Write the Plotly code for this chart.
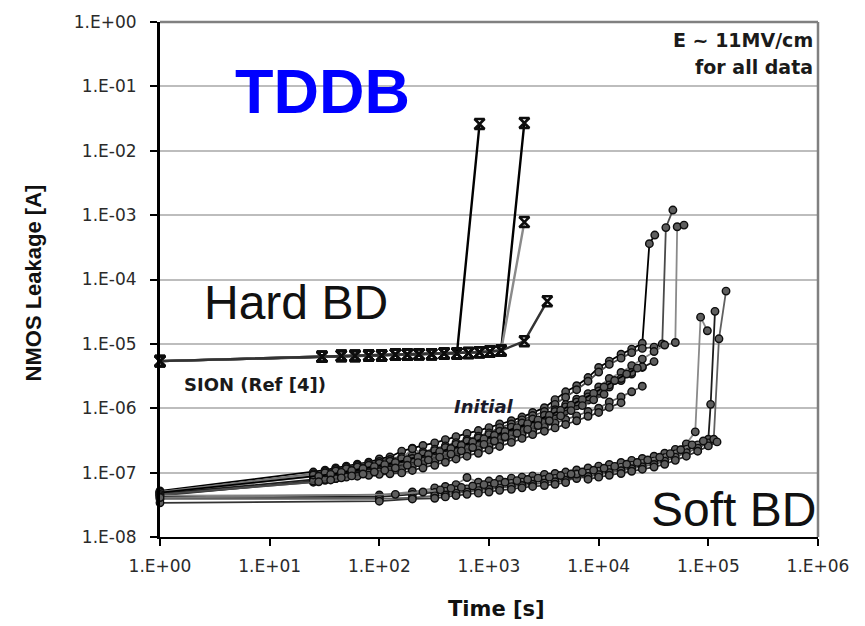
import plotly.graph_objects as go

# ---------------- data ----------------
# SiON reference devices: shared pre-breakdown history (time [s], leakage [A])
SION_T = [1, 30, 45, 60, 80, 105, 140, 180, 230, 300, 390, 510, 650, 820, 1020, 1290]
SION_I = [5.4e-6, 6.3e-6, 6.5e-6, 6.5e-6, 6.6e-6, 6.6e-6, 6.8e-6, 6.8e-6,
          6.9e-6, 6.9e-6, 7.1e-6, 7.1e-6, 7.2e-6, 7.4e-6, 7.6e-6, 7.9e-6]
# number of shared points each SiON device follows before it breaks down
SION_PRE = [12, 16, 16, 16]
SION_BD_T = [[820], [2100], [2100], [2100, 3400]]
SION_BD_I = [[2.6e-2], [2.7e-2], [7.8e-4], [1.1e-5, 4.6e-5]]

# "Initial" devices, two measurement time grids
T_INIT = [1, 25, 32, 40, 50, 63, 80, 100, 125, 160, 200, 250, 320, 400, 500, 630,
          800, 1000, 1250, 1600, 2000, 2500, 3200, 4000, 5000, 6300, 8000, 10000,
          12500, 16000, 20000, 25000, 32000, 40000, 50000]
T_INIT2 = [1, 28, 36, 45, 56, 71, 90, 112, 140, 180, 225, 280, 355, 450, 560, 710,
           900, 1120, 1400, 1800, 2250, 2800, 3550, 4500, 5600, 7100, 9000, 11200,
           14000, 18000, 22500]
INIT_I = [
    [5.2e-8, 1.02e-7, 1.09e-7, 1.18e-7, 1.26e-7, 1.35e-7, 1.45e-7, 1.63e-7, 1.75e-7,
     2.16e-7, 2.4e-7, 2.64e-7, 2.9e-7, 3.26e-7, 3.63e-7, 4.07e-7, 4.5e-7, 5.0e-7,
     5.7e-7, 6.4e-7, 7.3e-7, 8.6e-7, 1.02e-6, 1.36e-6, 1.8e-6, 2.24e-6, 3.0e-6,
     4.3e-6, 5.4e-6, 6.9e-6, 8.3e-6, 1.02e-5],
    [5.0e-8, 9.6e-8, 1.04e-7, 1.12e-7, 1.21e-7, 1.29e-7, 1.38e-7, 1.49e-7, 1.6e-7,
     1.75e-7, 1.92e-7, 2.1e-7, 2.32e-7, 2.6e-7, 2.92e-7, 3.27e-7, 3.68e-7, 4.15e-7,
     5.0e-7, 5.7e-7, 6.6e-7, 7.7e-7, 8.9e-7, 1.15e-6, 1.48e-6, 1.94e-6, 2.63e-6,
     3.65e-6, 4.8e-6, 6.0e-6, 7.3e-6, 8.5e-6, 8.9e-6],
    [4.8e-8, 8.5e-8, 9.1e-8, 9.8e-8, 1.05e-7, 1.12e-7, 1.2e-7, 1.29e-7, 1.38e-7,
     1.51e-7, 1.66e-7, 1.82e-7, 2.0e-7, 2.24e-7, 2.51e-7, 2.82e-7, 3.16e-7, 3.55e-7,
     4.26e-7, 4.9e-7, 5.6e-7, 6.5e-7, 7.4e-7, 9.5e-7, 1.14e-6, 1.38e-6, 1.69e-6,
     2.14e-6, 2.9e-6, 3.6e-6, 4.6e-6, 5.8e-6, 7.6e-6, 9.6e-6, 1.05e-5],
    [4.7e-8, 7.6e-8, 8.1e-8, 8.7e-8, 9.3e-8, 1.0e-7, 1.07e-7, 1.15e-7, 1.23e-7,
     1.34e-7, 1.48e-7, 1.62e-7, 1.78e-7, 2.0e-7, 2.23e-7, 2.5e-7, 2.8e-7, 3.2e-7,
     3.6e-7, 4.2e-7, 4.8e-7, 5.5e-7, 6.3e-7, 7.6e-7, 9.1e-7, 1.09e-6, 1.34e-6,
     1.7e-6, 2.14e-6, 2.7e-6, 3.4e-6, 4.3e-6, 5.3e-6],
    [4.5e-8, 7.1e-8, 7.6e-8, 8.1e-8, 8.7e-8, 9.3e-8, 1.0e-7, 1.03e-7, 1.1e-7,
     1.14e-7, 1.24e-7, 1.33e-7, 1.46e-7, 1.62e-7, 1.8e-7, 2.02e-7, 2.27e-7, 2.55e-7,
     2.9e-7, 3.35e-7, 3.85e-7, 4.4e-7, 5.1e-7, 5.9e-7, 6.7e-7, 7.6e-7, 8.9e-7,
     1.0e-6, 1.25e-6, 1.5e-6, 1.8e-6, 2.2e-6],
    [4.4e-8, 7.4e-8, 7.8e-8, 8.1e-8, 8.5e-8, 8.8e-8, 9.1e-8, 9.4e-8, 9.6e-8,
     9.9e-8, 1.08e-7, 1.18e-7, 1.3e-7, 1.45e-7, 1.63e-7, 1.8e-7, 2.0e-7, 2.25e-7,
     2.55e-7, 2.95e-7, 3.4e-7, 3.9e-7, 4.4e-7, 4.95e-7, 5.6e-7, 6.4e-7, 7.5e-7,
     8.6e-7, 1.03e-6, 1.22e-6],
    [5.0e-8, 9.2e-8, 9.9e-8, 1.06e-7, 1.15e-7, 1.22e-7, 1.3e-7, 1.4e-7, 1.5e-7,
     1.65e-7, 2.35e-7, 1.98e-7, 2.2e-7, 2.45e-7, 2.75e-7, 3.1e-7, 3.45e-7, 3.9e-7,
     4.4e-7, 5.1e-7, 5.9e-7, 6.8e-7, 7.8e-7, 8.9e-7, 1.05e-6, 1.25e-6, 1.5e-6,
     1.85e-6, 2.3e-6, 2.9e-6, 3.6e-6, 4.4e-6],
]
INIT2_I = [
    [4.9e-8, 8.8e-8, 9.4e-8, 1.01e-7, 1.08e-7, 1.16e-7, 1.24e-7, 1.33e-7, 1.44e-7,
     1.58e-7, 1.74e-7, 1.91e-7, 2.12e-7, 2.37e-7, 2.66e-7, 2.99e-7, 3.35e-7, 3.8e-7,
     4.36e-7, 5.0e-7, 5.77e-7, 6.6e-7, 7.8e-7, 9.3e-7, 1.12e-6, 1.36e-6, 1.7e-6,
     2.14e-6, 2.7e-6, 3.4e-6, 4.2e-6],
    [4.6e-8, 7.2e-8, 7.7e-8, 8.3e-8, 8.9e-8, 9.5e-8, 1.02e-7, 1.09e-7, 1.18e-7,
     1.3e-7, 1.43e-7, 1.57e-7, 1.74e-7, 1.94e-7, 2.18e-7, 2.45e-7, 2.75e-7, 3.1e-7,
     3.6e-7, 4.1e-7, 4.7e-7, 5.4e-7, 6.4e-7, 7.6e-7, 9.2e-7, 1.1e-6, 1.35e-6, 1.65e-6],
]
INIT_BD_T = [[29000, 32500], [38000, 41000, 47500], [52000, 60000], [], [], [], []]
INIT_BD_I = [[3.6e-4, 4.9e-4], [1.0e-5, 6.4e-4, 1.2e-3], [6.6e-4, 7.0e-4], [], [], [], []]

# Devices that end in soft breakdown
T_SOFT = [1, 100, 200, 320, 400, 500, 630, 800, 1000, 1250, 1600, 2000, 2500, 3200,
          4000, 5000, 6300, 8000, 10000, 12500, 16000, 20000, 25000, 32000, 40000,
          50000, 63000, 80000, 100000]
T_SOFT2 = [1, 140, 250, 360, 450, 560, 710, 900, 1120, 1400, 1800, 2250, 2800, 3550,
           4500, 5600, 7100, 9000, 11200, 14000, 18000, 22500, 28000, 36000, 45000,
           56000, 71000, 90000]
SOFT_I = [
    [4.4e-8, 4.5e-8, 5.0e-8, 5.8e-8, 6.1e-8, 6.5e-8, 8.4e-8, 7.1e-8, 7.4e-8, 7.8e-8,
     8.2e-8, 8.5e-8, 8.9e-8, 9.4e-8, 9.7e-8, 1.02e-7, 1.1e-7, 1.18e-7, 1.26e-7,
     1.34e-7, 1.44e-7, 1.55e-7, 1.66e-7, 1.8e-7, 2.0e-7, 2.3e-7, 2.8e-7],
    [4.2e-8, 4.2e-8, 4.6e-8, 4.9e-8, 5.1e-8, 5.4e-8, 5.6e-8, 5.9e-8, 6.2e-8, 6.5e-8,
     6.8e-8, 7.1e-8, 7.4e-8, 7.8e-8, 8.1e-8, 8.5e-8, 9.1e-8, 9.8e-8, 1.05e-7,
     1.12e-7, 1.2e-7, 1.29e-7, 1.38e-7, 1.51e-7, 1.7e-7, 1.95e-7, 2.3e-7, 2.7e-7,
     3.3e-7],
    [3.9e-8, 3.9e-8, 4.1e-8, 4.4e-8, 4.5e-8, 4.8e-8, 5.0e-8, 5.3e-8, 5.5e-8, 5.8e-8,
     6.1e-8, 6.3e-8, 6.6e-8, 6.9e-8, 7.2e-8, 7.6e-8, 8.1e-8, 8.7e-8, 9.3e-8, 1.0e-7,
     1.07e-7, 1.15e-7, 1.23e-7, 1.34e-7, 1.51e-7, 1.74e-7, 2.05e-7, 2.4e-7, 2.9e-7],
    [3.4e-8, 3.6e-8, 3.9e-8, 4.0e-8, 4.2e-8, 4.4e-8, 4.6e-8, 4.8e-8, 5.0e-8, 5.3e-8,
     5.5e-8, 5.8e-8, 6.1e-8, 6.3e-8, 6.6e-8, 7.0e-8, 9.5e-8, 7.9e-8, 8.5e-8, 9.1e-8,
     9.7e-8, 1.05e-7, 1.13e-7, 1.22e-7, 1.35e-7, 1.55e-7, 1.8e-7, 2.15e-7, 2.6e-7],
]
SOFT2_I = [
    [4.1e-8, 4.6e-8, 5.0e-8, 5.4e-8, 5.7e-8, 5.9e-8, 6.2e-8, 6.5e-8, 6.8e-8, 7.1e-8,
     7.5e-8, 7.8e-8, 8.2e-8, 8.5e-8, 9.0e-8, 9.5e-8, 1.02e-7, 1.09e-7, 1.17e-7,
     1.25e-7, 1.35e-7, 1.44e-7, 1.57e-7, 1.73e-7, 1.97e-7, 2.27e-7, 2.7e-7, 3.1e-7],
]
SOFT_BD_T = [[76000, 85000, 98000], [105000, 115000], [112000, 125000, 145000], [120000]]
SOFT_BD_I = [[4.3e-7, 2.6e-5, 1.6e-5], [1.15e-6, 3.2e-5], [3.3e-7, 1.2e-5, 6.6e-5], [3.0e-7]]

X_TICKS = [1, 10, 100, 1e3, 1e4, 1e5, 1e6]
X_LABELS = ["1.E+00", "1.E+01", "1.E+02", "1.E+03", "1.E+04", "1.E+05", "1.E+06"]
Y_TICKS = [1e0, 1e-1, 1e-2, 1e-3, 1e-4, 1e-5, 1e-6, 1e-7, 1e-8]
Y_LABELS = ["1.E+00", "1.E-01", "1.E-02", "1.E-03", "1.E-04",
            "1.E-05", "1.E-06", "1.E-07", "1.E-08"]

# ---------------- figure ----------------
W, H = 865, 626
ML, MR, MT, MB = 160, 47, 13, 89


def fx(xpix):
    return (xpix - ML) / (W - ML - MR)


def fy(ypix):
    return (H - MB - ypix) / (H - MT - MB)


fig = go.Figure()

LINE_GRAYS = ["#000000", "#4a4a4a", "#8a8a8a", "#1c1c1c", "#606060", "#333333", "#7a7a7a"]
CIRCLE = dict(symbol="circle", size=7.5, color="#5e5e5e",
              line=dict(color="#0d0d0d", width=1.4))

# circle-marked devices: (time grid, value lists, breakdown times, breakdown values)
groups = [
    (T_INIT, INIT_I, INIT_BD_T, INIT_BD_I),
    (T_INIT2, INIT2_I, [[]] * len(INIT2_I), [[]] * len(INIT2_I)),
    (T_SOFT, SOFT_I, SOFT_BD_T, SOFT_BD_I),
    (T_SOFT2, SOFT2_I, [[]] * len(SOFT2_I), [[]] * len(SOFT2_I)),
]
k = 0
for t_grid, vals, bd_t, bd_i in groups:
    for v, tt, ii in zip(vals, bd_t, bd_i):
        fig.add_trace(go.Scatter(
            x=t_grid[:len(v)] + tt, y=v + ii, mode="lines+markers", cliponaxis=False,
            line=dict(color=LINE_GRAYS[k % len(LINE_GRAYS)], width=1.8),
            marker=CIRCLE, showlegend=False, hoverinfo="x+y"))
        k += 1

# SiON devices
SION_COLORS = ["#000000", "#000000", "#8a8a8a", "#333333"]
for n, tt, ii, col in zip(SION_PRE, SION_BD_T, SION_BD_I, SION_COLORS):
    fig.add_trace(go.Scatter(
        x=SION_T[:n] + tt, y=SION_I[:n] + ii, mode="lines+markers", cliponaxis=False,
        line=dict(color=col, width=2.4),
        marker=dict(symbol="hourglass-open", size=10, color="#0d0d0d",
                    line=dict(color="#0d0d0d", width=2.6)),
        showlegend=False, hoverinfo="x+y"))

TICK_FONT = dict(family="DejaVu Sans", size=17, color="#2a2a2a")

fig.update_xaxes(
    type="log", range=[0, 6], tickvals=X_TICKS, ticktext=X_LABELS,
    showgrid=False, zeroline=False, showline=True, linecolor="black", linewidth=2,
    ticks="outside", ticklen=7, tickwidth=2, tickcolor="black",
    tickfont=TICK_FONT, ticklabelstandoff=6)
fig.update_yaxes(
    type="log", range=[-8, 0], tickvals=Y_TICKS, ticktext=Y_LABELS,
    showgrid=True, gridcolor="#bdbdbd", gridwidth=1.5, zeroline=False,
    showline=True, linecolor="black", linewidth=3,
    ticks="outside", ticklen=7, tickwidth=2, tickcolor="black",
    tickfont=TICK_FONT, ticklabelstandoff=10)

shapes = [
    # top and right frame
    dict(type="line", xref="paper", yref="paper", x0=0, x1=1, y0=1, y1=1,
         line=dict(color="#808080", width=2.5)),
    dict(type="line", xref="paper", yref="paper", x0=1, x1=1, y0=0, y1=1,
         line=dict(color="#808080", width=2.5)),
    # white text boxes hiding gridlines
    dict(type="rect", xref="paper", yref="paper", layer="between",
         x0=fx(177), x1=fx(466), y0=fy(112), y1=fy(52),
         line=dict(width=0), fillcolor="white"),
    dict(type="rect", xref="paper", yref="paper", layer="between",
         x0=fx(179), x1=fx(416), y0=fy(322), y1=fy(266),
         line=dict(width=0), fillcolor="white"),
]

BOLD = "DejaVu Sans"
ann = [
    dict(text="<b>TDDB</b>", x=fx(322), y=fy(83),
         font=dict(family="Liberation Sans", size=63, color="#0000ff")),
    dict(text="Hard BD", x=fx(296), y=fy(298),
         font=dict(family="Liberation Sans", size=48, color="#111111")),
    dict(text="Soft BD", x=fx(733), y=fy(509),
         font=dict(family="Liberation Sans", size=48, color="#111111")),
    dict(text="<b>SION (Ref [4])</b>", x=fx(182), y=fy(382), xanchor="left",
         font=dict(family=BOLD, size=18, color="#1a1a1a")),
    dict(text="<b><i>Initial</i></b>", x=fx(452), y=fy(404), xanchor="left",
         font=dict(family=BOLD, size=18, color="#1a1a2a")),
    dict(text="<b>E ~ 11MV/cm</b>", x=fx(815), y=fy(31), xanchor="right",
         font=dict(family=BOLD, size=19, color="#1a1a1a")),
    dict(text="<b>for all data</b>", x=fx(815), y=fy(59), xanchor="right",
         font=dict(family=BOLD, size=19, color="#1a1a1a")),
    dict(text="<b>NMOS Leakage [A]</b>", x=fx(33), y=fy(278), textangle=-90,
         font=dict(family="Liberation Sans", size=22, color="#111111")),
    dict(text="<b>Time [s]</b>", x=fx(496), y=fy(610),
         font=dict(family=BOLD, size=21, color="#111111")),
]
for a in ann:
    a.update(xref="paper", yref="paper", showarrow=False)
    a.setdefault("xanchor", "center")
    a.setdefault("yanchor", "middle")

fig.update_layout(
    width=W, height=H,
    margin=dict(l=ML, r=MR, t=MT, b=MB),
    paper_bgcolor="white", plot_bgcolor="white",
    shapes=shapes, annotations=ann, showlegend=False,
)

fig.write_html("out.html")
